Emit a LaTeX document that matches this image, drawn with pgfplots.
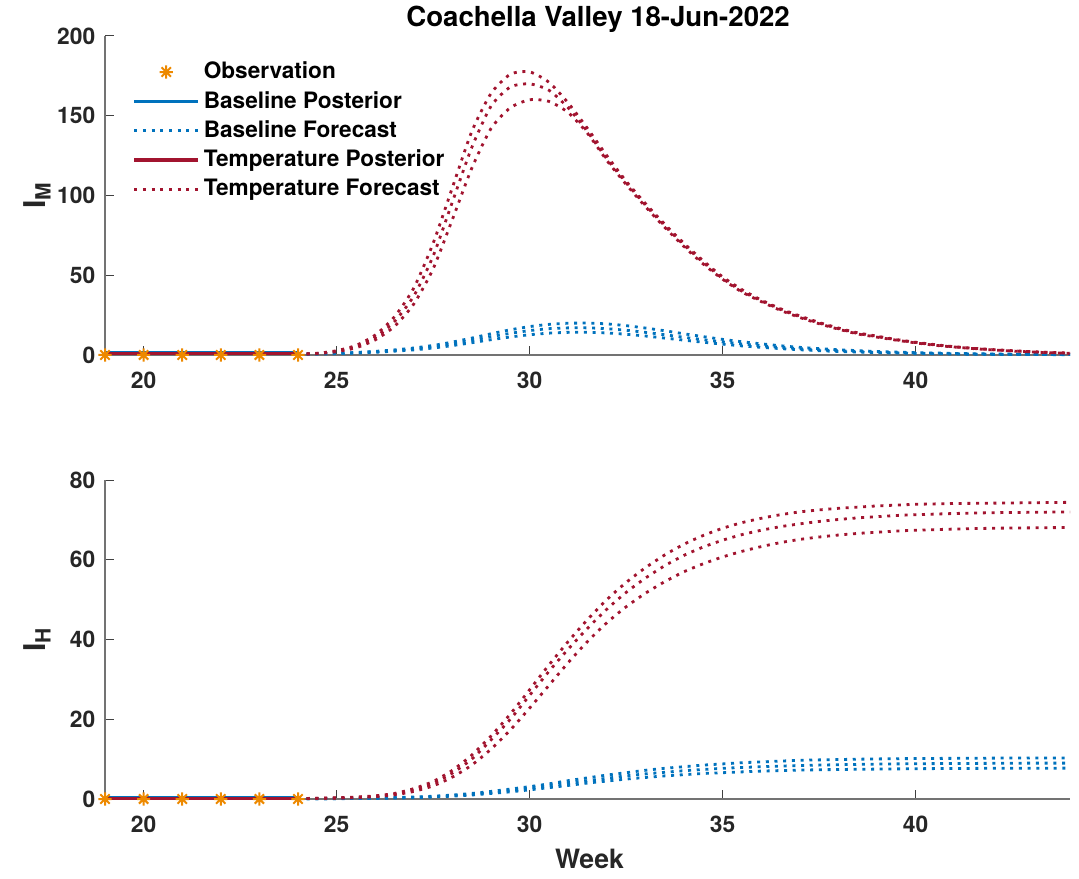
\documentclass[border=0pt]{standalone}
\usepackage{fontspec}
\setmainfont{TeX Gyre Heros}
\usepackage{pgfplots}
\pgfplotsset{compat=1.18}

\definecolor{obsorange}{RGB}{237,137,0}
\definecolor{mblue}{rgb}{0,0.447,0.741}
\definecolor{mred}{rgb}{0.635,0.078,0.184}
\definecolor{labgray}{RGB}{38,38,38}

% eight-pointed asterisk (plus and cross combined)
\pgfdeclareplotmark{star8}{%
  \pgfpathmoveto{\pgfqpoint{-\pgfplotmarksize}{0pt}}%
  \pgfpathlineto{\pgfqpoint{\pgfplotmarksize}{0pt}}%
  \pgfpathmoveto{\pgfqpoint{0pt}{-\pgfplotmarksize}}%
  \pgfpathlineto{\pgfqpoint{0pt}{\pgfplotmarksize}}%
  \pgfpathmoveto{\pgfqpoint{-.707\pgfplotmarksize}{-.707\pgfplotmarksize}}%
  \pgfpathlineto{\pgfqpoint{.707\pgfplotmarksize}{.707\pgfplotmarksize}}%
  \pgfpathmoveto{\pgfqpoint{-.707\pgfplotmarksize}{.707\pgfplotmarksize}}%
  \pgfpathlineto{\pgfqpoint{.707\pgfplotmarksize}{-.707\pgfplotmarksize}}%
  \pgfusepathqstroke}

\pgfplotsset{
  panel/.style={
    scale only axis, width=482.5pt, height=159.5pt,
    xmin=19, xmax=44,
    axis x line*=bottom, axis y line*=left,
    axis line style={black!55, line width=0.6pt, -},
    tick align=inside, major tick length=4.5pt,
    tick style={black!75, line width=0.5pt},
    xtick={20,25,...,40},
    tick label style={font=\fontsize{11.4}{13}\selectfont\bfseries, text=labgray},
    /pgf/number format/assume math mode=true,
    xticklabel style={yshift=-4.5pt},
    yticklabel style={xshift=-1pt},
    ylabel style={font=\fontsize{15}{17}\selectfont\bfseries, text=labgray,
      at={(axis description cs:-0.056,0.5)}, anchor=south, inner sep=0pt},
    clip=false,
  },
  fc/.style={line width=1.4pt, dash pattern=on 1.5pt off 2.85pt, smooth, tension=0.4},
  post/.style={line width=1.6pt},
  obs/.style={only marks, mark=star8, mark size=3.3pt, obsorange, line width=1pt},
}

\begin{document}
\fontsize{11}{13}\selectfont\bfseries
\begin{tikzpicture}
\path[use as bounding box] (-52.5pt,-39.5pt) rectangle (487pt,399.5pt);

% ---------------- mosquito infections ----------------
\begin{axis}[panel,
  at={(0pt,222pt)}, anchor=south west,
  ymin=0, ymax=200, ytick={0,50,...,200},
  ylabel={I\textsubscript{M}},
  title={Coachella Valley 18-Jun-2022},
  title style={font=\fontsize{13.8}{16}\selectfont\bfseries,
    at={(axis description cs:0.511,1)}, anchor=base, yshift=-1.5pt},
  legend style={draw=none, fill=none, at={(axis description cs:0.022,0.945)},
    anchor=north west, font=\fontsize{11.3}{13}\selectfont\bfseries,
    row sep=0.6pt, cells={anchor=west}},
  legend image code/.code={\draw[mark repeat=2,mark phase=2,#1]
    plot coordinates {(0pt,0pt) (16pt,0pt) (32pt,0pt)};},
]
\addlegendimage{obs}
\addlegendentry{Observation}
\addlegendimage{post, mblue}
\addlegendentry{Baseline Posterior}
\addlegendimage{line width=1.4pt, dash pattern=on 1.5pt off 2.85pt, mblue}
\addlegendentry{Baseline Forecast}
\addlegendimage{post, mred}
\addlegendentry{Temperature Posterior}
\addlegendimage{line width=1.4pt, dash pattern=on 1.5pt off 2.85pt, mred}
\addlegendentry{Temperature Forecast}

% baseline forecast
\addplot[fc, mblue, forget plot] coordinates {
(24,0.5)(25,1.1)(25.5,1.6)(26,2.3)(26.5,3.2)(27,4.4)(27.5,6.0)(28,8.1)(28.5,10.6)
(29,13.3)(29.5,15.8)(30,17.8)(30.5,19.2)(31,19.9)(31.5,20.0)(32,19.5)(32.5,18.4)
(33,16.9)(33.5,15.2)(34,13.3)(34.5,11.5)(35,9.8)(35.5,8.3)(36,7.0)(36.5,5.8)
(37,4.8)(37.5,4.0)(38,3.3)(39,2.2)(40,1.5)(41,1.0)(42,0.65)(43,0.45)(44,0.3)};
\addplot[fc, mblue, forget plot] coordinates {
(24,0.5)(25,1.0)(25.5,1.4)(26,2.0)(26.5,2.8)(27,3.8)(27.5,5.2)(28,7.0)(28.5,9.2)
(29,11.5)(29.5,13.6)(30,15.3)(30.5,16.5)(31,17.0)(31.5,17.0)(32,16.5)(32.5,15.5)
(33,14.2)(33.5,12.7)(34,11.1)(34.5,9.6)(35,8.2)(35.5,6.9)(36,5.8)(36.5,4.8)
(37,4.0)(37.5,3.3)(38,2.7)(39,1.8)(40,1.2)(41,0.8)(42,0.5)(43,0.35)(44,0.25)};
\addplot[fc, mblue, forget plot] coordinates {
(24,0.5)(25,0.9)(25.5,1.2)(26,1.7)(26.5,2.4)(27,3.2)(27.5,4.4)(28,5.9)(28.5,7.7)
(29,9.6)(29.5,11.3)(30,12.7)(30.5,13.7)(31,14.2)(31.5,14.2)(32,13.8)(32.5,13.0)
(33,11.9)(33.5,10.6)(34,9.3)(34.5,8.0)(35,6.8)(35.5,5.7)(36,4.8)(36.5,4.0)
(37,3.3)(37.5,2.7)(38,2.2)(39,1.5)(40,1.0)(41,0.65)(42,0.4)(43,0.3)(44,0.2)};

% temperature forecast
\addplot[fc, mred, forget plot] coordinates {
(24,0.5)(24.5,1.1)(25,2.7)(25.5,6)(26,12.5)(26.5,24)(27,42)(27.5,70)(28,105)
(28.5,140)(29,164)(29.5,176)(30,177.5)(30.5,171)(31,158)(31.5,142)(32,125)
(32.5,109)(33,95)(33.5,82)(34,70)(34.5,59)(35,49)(35.5,41)(36,34.5)(36.5,29)
(37,24.5)(37.5,20.4)(38,16.9)(38.5,13.9)(39,11.8)(39.5,9.7)(40,8.0)(40.5,6.5)
(41,5.2)(41.5,4.2)(42,3.4)(42.5,2.7)(43,2.1)(43.5,1.6)(44,1.2)};
\addplot[fc, mred, forget plot] coordinates {
(24,0.5)(24.5,1.0)(25,2.4)(25.5,5.2)(26,11)(26.5,21)(27,37)(27.5,62)(28,96)
(28.5,130)(29,156)(29.5,168)(30,170)(30.5,166)(31,155)(31.5,140)(32,123)
(32.5,108)(33,94)(33.5,81)(34,69)(34.5,58)(35,48)(35.5,40)(36,34)(36.5,28.5)
(37,24)(37.5,20)(38,16.5)(38.5,13.5)(39,11.5)(39.5,9.5)(40,7.8)(40.5,6.3)
(41,5.1)(41.5,4.1)(42,3.3)(42.5,2.6)(43,2.0)(43.5,1.5)(44,1.1)};
\addplot[fc, mred, forget plot] coordinates {
(24,0.5)(24.5,0.9)(25,2.1)(25.5,4.5)(26,9.5)(26.5,18)(27,32)(27.5,54)(28,85)
(28.5,117)(29,142)(29.5,155)(30,160)(30.5,159)(31,152)(31.5,139)(32,122)
(32.5,107)(33,93)(33.5,80)(34,68)(34.5,57)(35,47.5)(35.5,39.5)(36,33.5)(36.5,28)
(37,23.5)(37.5,19.6)(38,16.2)(38.5,13.2)(39,11.2)(39.5,9.3)(40,7.6)(40.5,6.1)
(41,5.0)(41.5,4.0)(42,3.2)(42.5,2.5)(43,1.9)(43.5,1.4)(44,1.0)};

% posteriors
\addplot[post, mblue, forget plot] coordinates {(19,1.2)(20,1.2)(21,1.2)(22,1.2)(23,1.2)(24,1.2)};
\addplot[post, mred, forget plot] coordinates {(19,0.8)(20,0.8)(21,0.8)(22,0.8)(23,0.8)(24,0.8)};
% observations
\addplot[obs, forget plot] coordinates {(19,0)(20,0)(21,0)(22,0)(23,0)(24,0)};
\end{axis}

% ---------------- human infections ----------------
\begin{axis}[panel,
  at={(0pt,0pt)}, anchor=south west,
  ymin=0, ymax=80, ytick={0,20,...,80},
  ylabel={I\textsubscript{H}},
  xlabel={Week},
  xlabel style={font=\fontsize{13.3}{15}\selectfont\bfseries, text=labgray,
    at={(axis description cs:0.502,0)}, anchor=base, yshift=-34.5pt},
]
% baseline forecast
\addplot[fc, mblue] coordinates {
(24,0.05)(25,0.12)(26,0.25)(27,0.5)(27.5,0.7)(28,1.0)(28.5,1.4)(29,1.9)(29.5,2.5)
(30,3.1)(30.5,3.8)(31,4.6)(31.5,5.3)(32,6.0)(32.5,6.6)(33,7.2)(33.5,7.7)(34,8.1)
(34.5,8.5)(35,8.8)(35.5,9.1)(36,9.3)(37,9.7)(38,9.9)(39,10.05)(40,10.15)(41,10.2)
(42,10.25)(43,10.3)(44,10.3)};
\addplot[fc, mblue] coordinates {
(24,0.05)(25,0.1)(26,0.2)(27,0.4)(27.5,0.6)(28,0.85)(28.5,1.2)(29,1.6)(29.5,2.1)
(30,2.7)(30.5,3.3)(31,4.0)(31.5,4.6)(32,5.2)(32.5,5.8)(33,6.3)(33.5,6.7)(34,7.1)
(34.5,7.4)(35,7.7)(35.5,7.9)(36,8.1)(37,8.4)(38,8.6)(39,8.75)(40,8.85)(41,8.9)
(42,8.95)(43,9.0)(44,9.0)};
\addplot[fc, mblue] coordinates {
(24,0.05)(25,0.08)(26,0.17)(27,0.34)(27.5,0.5)(28,0.72)(28.5,1.0)(29,1.4)(29.5,1.8)
(30,2.3)(30.5,2.85)(31,3.4)(31.5,4.0)(32,4.5)(32.5,5.0)(33,5.4)(33.5,5.8)(34,6.1)
(34.5,6.4)(35,6.6)(35.5,6.8)(36,7.0)(37,7.25)(38,7.4)(39,7.5)(40,7.6)(41,7.65)
(42,7.7)(43,7.7)(44,7.75)};

% temperature forecast
\addplot[fc, mred] coordinates {
(24,0.1)(25,0.3)(25.5,0.5)(26,0.8)(26.5,1.4)(27,2.6)(27.5,4.4)(28,7.2)(28.5,11)
(29,15.8)(29.5,21.3)(30,27.4)(30.5,33.6)(31,39.5)(31.5,45)(32,50)(32.5,54.3)
(33,58)(33.5,61.2)(34,63.9)(34.5,66.1)(35,67.9)(35.5,69.3)(36,70.4)(36.5,71.3)
(37,72)(37.5,72.5)(38,72.9)(38.5,73.2)(39,73.5)(39.5,73.7)(40,73.9)(41,74.1)
(42,74.2)(43,74.3)(44,74.4)};
\addplot[fc, mred] coordinates {
(24,0.1)(25,0.25)(25.5,0.4)(26,0.7)(26.5,1.2)(27,2.3)(27.5,3.9)(28,6.5)(28.5,10)
(29,14.8)(29.5,20)(30,26)(30.5,32)(31,37.6)(31.5,42.8)(32,47.6)(32.5,51.8)
(33,55.4)(33.5,58.5)(34,61.1)(34.5,63.2)(35,64.9)(35.5,66.3)(36,67.4)(36.5,68.3)
(37,69.0)(37.5,69.6)(38,70.1)(38.5,70.5)(39,70.8)(39.5,71.1)(40,71.3)(41,71.6)
(42,71.8)(43,71.9)(44,72.0)};
\addplot[fc, mred] coordinates {
(24,0.1)(25,0.2)(25.5,0.35)(26,0.6)(26.5,1.05)(27,1.9)(27.5,3.3)(28,5.5)(28.5,8.5)
(29,12.5)(29.5,17.3)(30,22.8)(30.5,28.5)(31,34.2)(31.5,39.5)(32,44.2)(32.5,48.2)
(33,51.6)(33.5,54.5)(34,57)(34.5,59)(35,60.7)(35.5,62.1)(36,63.3)(36.5,64.3)
(37,65.1)(37.5,65.7)(38,66.2)(38.5,66.6)(39,66.9)(39.5,67.2)(40,67.4)(41,67.7)
(42,67.9)(43,68)(44,68.1)};

% posteriors
\addplot[post, mblue] coordinates {(19,0.35)(20,0.35)(21,0.35)(22,0.35)(23,0.35)(24,0.35)};
\addplot[post, mred] coordinates {(19,0.2)(20,0.2)(21,0.2)(22,0.2)(23,0.2)(24,0.2)};
% observations
\addplot[obs] coordinates {(19,0)(20,0)(21,0)(22,0)(23,0)(24,0)};
\end{axis}
\end{tikzpicture}
\end{document}
